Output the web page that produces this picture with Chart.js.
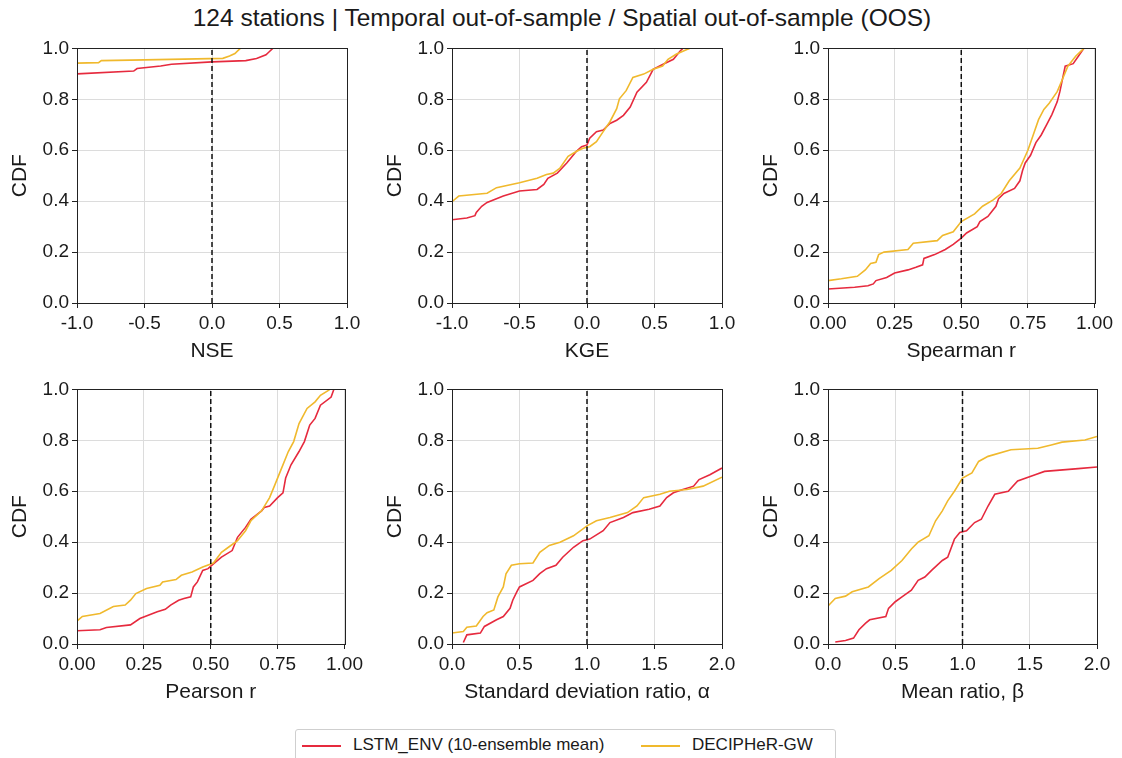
<!DOCTYPE html>
<html>
<head>
<meta charset="utf-8">
<script src="https://cdn.jsdelivr.net/npm/chart.js@4"></script>
<style>
  body { margin: 0; background: #fff; width: 1122px; height: 758px; position: relative; overflow: hidden;
         font-family: "Liberation Sans", Arial, sans-serif; color: #1a1a1a; }
  .panel { position: absolute; }
  #title { position: absolute; left: 0; width: 1124px; top: 4px; text-align: center; font-size: 24.5px; }
  #legend { position: absolute; left: 295px; top: 729px; width: 541px; height: 40px; border: 1px solid #cfcfcf;
            border-radius: 3px; box-sizing: border-box; font-size: 17px; }
  .item { position: absolute; top: 5px; white-space: nowrap; }
  .swatch { display: inline-block; width: 39px; height: 0; border-top: 2px solid; vertical-align: middle; margin-right: 12px; }
</style>
</head>
<body>
<div id="title">124 stations | Temporal out-of-sample / Spatial out-of-sample (OOS)</div>

<div class="panel" style="left:0px;top:34px"><canvas id="c0" width="367" height="333"></canvas></div>
<div class="panel" style="left:375px;top:34px"><canvas id="c1" width="367" height="333"></canvas></div>
<div class="panel" style="left:751px;top:34px"><canvas id="c2" width="366" height="333"></canvas></div>
<div class="panel" style="left:0px;top:375px"><canvas id="c3" width="367" height="333"></canvas></div>
<div class="panel" style="left:375px;top:375px"><canvas id="c4" width="367" height="333"></canvas></div>
<div class="panel" style="left:751px;top:375px"><canvas id="c5" width="366" height="333"></canvas></div>

<div id="legend">
  <span class="item" style="left:6px"><span class="swatch" style="border-color:#e62a3e"></span>LSTM_ENV (10-ensemble mean)</span>
  <span class="item" style="left:345px"><span class="swatch" style="border-color:#f0b92d"></span>DECIPHeR-GW</span>
</div>

<script>
const RED = '#e62a3e';
const YELLOW = '#f0b92d';

const nseLstm = [[-1,0.9],[-0.58,0.911],[-0.555,0.921],[-0.38,0.931],[-0.3,0.938],[0,0.947],[0.25,0.952],[0.33,0.96],[0.4,0.975],[0.42,0.985],[0.45,1.0]];
const nseDec = [[-1,0.942],[-0.84,0.944],[-0.82,0.952],[-0.5,0.955],[0.08,0.961],[0.13,0.97],[0.17,0.98],[0.19,0.99],[0.21,1.0]];

const kgeLstm = [[-1,0.327],[-0.89,0.334],[-0.83,0.343],[-0.82,0.356],[-0.78,0.38],[-0.74,0.395],[-0.62,0.42],[-0.5,0.44],[-0.37,0.446],[-0.32,0.466],[-0.29,0.49],[-0.22,0.51],[-0.15,0.55],[-0.08,0.595],[-0.04,0.614],[0,0.621],[0.02,0.647],[0.07,0.673],[0.12,0.679],[0.17,0.705],[0.22,0.718],[0.27,0.737],[0.32,0.77],[0.37,0.828],[0.44,0.867],[0.49,0.918],[0.56,0.937],[0.64,0.957],[0.69,0.99],[0.71,1.0]];
const kgeDec = [[-1,0.398],[-0.95,0.42],[-0.74,0.431],[-0.67,0.453],[-0.5,0.472],[-0.37,0.49],[-0.3,0.505],[-0.25,0.51],[-0.2,0.53],[-0.14,0.576],[-0.08,0.595],[-0.03,0.608],[0.02,0.614],[0.07,0.634],[0.12,0.673],[0.17,0.712],[0.22,0.763],[0.24,0.802],[0.29,0.834],[0.34,0.886],[0.42,0.899],[0.49,0.918],[0.56,0.931],[0.6,0.957],[0.66,0.977],[0.74,0.996],[0.76,1.0]];

const spearLstm = [[0,0.055],[0.1,0.062],[0.15,0.068],[0.17,0.075],[0.18,0.088],[0.22,0.1],[0.25,0.118],[0.3,0.13],[0.33,0.14],[0.355,0.15],[0.36,0.175],[0.4,0.19],[0.44,0.21],[0.47,0.23],[0.5,0.255],[0.52,0.275],[0.56,0.3],[0.57,0.32],[0.6,0.34],[0.63,0.38],[0.64,0.41],[0.66,0.43],[0.7,0.45],[0.72,0.48],[0.73,0.52],[0.74,0.55],[0.76,0.58],[0.78,0.63],[0.8,0.66],[0.82,0.7],[0.84,0.74],[0.86,0.79],[0.87,0.83],[0.88,0.88],[0.89,0.93],[0.92,0.94],[0.94,0.97],[0.96,1.0]];
const spearDec = [[0,0.088],[0.05,0.095],[0.11,0.105],[0.14,0.13],[0.16,0.155],[0.18,0.16],[0.19,0.19],[0.21,0.2],[0.3,0.21],[0.32,0.235],[0.41,0.245],[0.43,0.265],[0.47,0.28],[0.5,0.32],[0.55,0.35],[0.58,0.38],[0.62,0.405],[0.65,0.43],[0.68,0.48],[0.72,0.53],[0.75,0.6],[0.77,0.66],[0.79,0.72],[0.81,0.76],[0.83,0.785],[0.86,0.83],[0.88,0.88],[0.9,0.93],[0.93,0.97],[0.96,1.0]];

const pearLstm = [[0,0.052],[0.086,0.056],[0.11,0.065],[0.2,0.075],[0.235,0.1],[0.3,0.127],[0.33,0.136],[0.35,0.153],[0.38,0.172],[0.4,0.179],[0.425,0.185],[0.435,0.224],[0.45,0.244],[0.47,0.289],[0.49,0.296],[0.51,0.315],[0.54,0.341],[0.58,0.367],[0.6,0.419],[0.63,0.458],[0.65,0.49],[0.69,0.523],[0.7,0.536],[0.72,0.542],[0.75,0.575],[0.77,0.594],[0.78,0.652],[0.8,0.704],[0.83,0.756],[0.85,0.795],[0.87,0.86],[0.89,0.886],[0.91,0.938],[0.95,0.97],[0.96,1.0]];
const pearDec = [[0,0.09],[0.02,0.108],[0.086,0.12],[0.136,0.147],[0.18,0.153],[0.2,0.172],[0.22,0.198],[0.26,0.218],[0.31,0.231],[0.32,0.244],[0.37,0.253],[0.39,0.27],[0.43,0.283],[0.47,0.302],[0.51,0.318],[0.54,0.36],[0.57,0.383],[0.6,0.406],[0.63,0.445],[0.65,0.484],[0.69,0.523],[0.72,0.575],[0.74,0.626],[0.76,0.678],[0.79,0.756],[0.81,0.795],[0.83,0.866],[0.86,0.925],[0.89,0.951],[0.91,0.977],[0.94,0.996],[0.945,1.0]];

const alphaLstm = [[0.084,0.006],[0.11,0.036],[0.21,0.043],[0.24,0.069],[0.33,0.095],[0.38,0.108],[0.43,0.14],[0.45,0.172],[0.48,0.205],[0.5,0.224],[0.6,0.25],[0.65,0.276],[0.7,0.296],[0.77,0.309],[0.82,0.341],[0.9,0.38],[0.97,0.406],[1.02,0.412],[1.12,0.445],[1.17,0.477],[1.27,0.497],[1.34,0.516],[1.46,0.529],[1.54,0.542],[1.59,0.575],[1.64,0.594],[1.71,0.607],[1.79,0.62],[1.83,0.646],[1.91,0.665],[2.0,0.691]];
const alphaDec = [[0,0.043],[0.084,0.049],[0.11,0.066],[0.18,0.071],[0.23,0.108],[0.26,0.123],[0.31,0.134],[0.34,0.185],[0.38,0.224],[0.4,0.276],[0.44,0.309],[0.5,0.315],[0.6,0.318],[0.65,0.36],[0.72,0.387],[0.8,0.4],[0.9,0.425],[1.0,0.464],[1.07,0.484],[1.17,0.497],[1.3,0.516],[1.37,0.542],[1.42,0.575],[1.54,0.588],[1.61,0.6],[1.74,0.607],[1.86,0.62],[2.0,0.655]];

const betaLstm = [[0.054,0.008],[0.13,0.014],[0.19,0.023],[0.23,0.056],[0.28,0.082],[0.31,0.095],[0.43,0.108],[0.45,0.14],[0.5,0.166],[0.55,0.185],[0.62,0.211],[0.67,0.25],[0.72,0.263],[0.77,0.289],[0.85,0.328],[0.89,0.341],[0.94,0.412],[0.98,0.438],[1.03,0.445],[1.09,0.477],[1.14,0.49],[1.19,0.542],[1.24,0.588],[1.34,0.6],[1.41,0.64],[1.54,0.665],[1.61,0.678],[1.86,0.689],[2.0,0.695]];
const betaDec = [[0,0.149],[0.054,0.179],[0.13,0.188],[0.18,0.205],[0.3,0.224],[0.38,0.257],[0.47,0.289],[0.55,0.328],[0.62,0.373],[0.67,0.4],[0.75,0.425],[0.8,0.484],[0.85,0.523],[0.89,0.562],[0.94,0.6],[1.0,0.652],[1.07,0.672],[1.12,0.717],[1.19,0.737],[1.36,0.763],[1.56,0.769],[1.66,0.782],[1.74,0.793],[1.91,0.801],[2.0,0.815]];

const xTitles = ['NSE', 'KGE', 'Spearman r', 'Pearson r', 'Standard deviation ratio, \u03b1', 'Mean ratio, \u03b2'];
const xMin = [-1, -1, 0, 0, 0, 0];
const xMax = [1, 1, 1, 1, 2, 2];
const xStep = [0.5, 0.5, 0.25, 0.25, 0.5, 0.5];
const xDecimals = [1, 1, 2, 2, 1, 1];
const refLine = [0, 0, 0.5, 0.5, 1, 1];
const yTicks = [0, 0.2, 0.4, 0.6, 0.8, 1.0];
const lstmSeries = [nseLstm, kgeLstm, spearLstm, pearLstm, alphaLstm, betaLstm];
const decSeries = [nseDec, kgeDec, spearDec, pearDec, alphaDec, betaDec];

const FONT = '"Liberation Sans", Arial, sans-serif';

// axes frame (matplotlib spines on all four sides)
const framePlugin = {
  id: 'frame',
  afterDatasetsDraw(chart) {
    const a = chart.chartArea, c = chart.ctx;
    c.save();
    c.strokeStyle = '#222';
    c.lineWidth = 1;
    c.strokeRect(Math.round(a.left) + 0.5, Math.round(a.top) + 0.5, Math.round(a.right - a.left), Math.round(a.bottom - a.top));
    c.restore();
  }
};

const toPts = arr => arr.map(p => ({x: p[0], y: p[1]}));

for (let i = 0; i < 6; i++) {
  const ctx = document.getElementById('c' + i).getContext('2d');
  new Chart(ctx, {
    type: 'line',
    data: {
      datasets: [
        {
          label: 'ref',
          data: [{x: refLine[i], y: 0}, {x: refLine[i], y: 1}],
          borderColor: '#111',
          borderWidth: 1.5,
          borderDash: [5, 3],
          pointRadius: 0
        },
        {
          label: 'DECIPHeR-GW',
          data: toPts(decSeries[i]),
          borderColor: YELLOW,
          borderWidth: 1.6,
          pointRadius: 0,
          tension: 0
        },
        {
          label: 'LSTM_ENV (10-ensemble mean)',
          data: toPts(lstmSeries[i]),
          borderColor: RED,
          borderWidth: 1.6,
          pointRadius: 0,
          tension: 0
        }
      ]
    },
    options: {
      responsive: false,
      animation: false,
      devicePixelRatio: 1,
      layout: { padding: { top: 12, right: 20, bottom: 0, left: 0 } },
      scales: {
        x: {
          type: 'linear',
          min: xMin[i],
          max: xMax[i],
          afterBuildTicks: s => {
            const t = [];
            for (let v = xMin[i]; v <= xMax[i] + 1e-9; v += xStep[i]) t.push({value: +v.toFixed(3)});
            s.ticks = t;
          },
          afterFit: s => { s.height = 64; },
          ticks: {
            color: '#1a1a1a',
            padding: 4,
            maxRotation: 0,
            font: { family: FONT, size: 19 },
            callback: v => v.toFixed(xDecimals[i])
          },
          grid: { color: '#dcdcdc', tickColor: '#222', tickLength: 5 },
          border: { color: '#222' },
          title: { display: true, text: xTitles[i], color: '#1a1a1a', font: { family: FONT, size: 21 }, padding: { top: 4, bottom: 3 } }
        },
        y: {
          min: 0,
          max: 1,
          afterBuildTicks: s => { s.ticks = yTicks.map(v => ({value: v})); },
          afterFit: s => { s.width = 77; },
          ticks: {
            color: '#1a1a1a',
            padding: 3,
            font: { family: FONT, size: 19 },
            callback: v => v.toFixed(1)
          },
          grid: { color: '#dcdcdc', tickColor: '#222', tickLength: 5 },
          border: { color: '#222' },
          title: { display: true, text: 'CDF', color: '#1a1a1a', font: { family: FONT, size: 21 }, padding: { top: 8, bottom: 4 } }
        }
      },
      plugins: {
        legend: { display: false },
        tooltip: { enabled: false }
      }
    },
    plugins: [framePlugin]
  });
}
</script>
</body>
</html>
